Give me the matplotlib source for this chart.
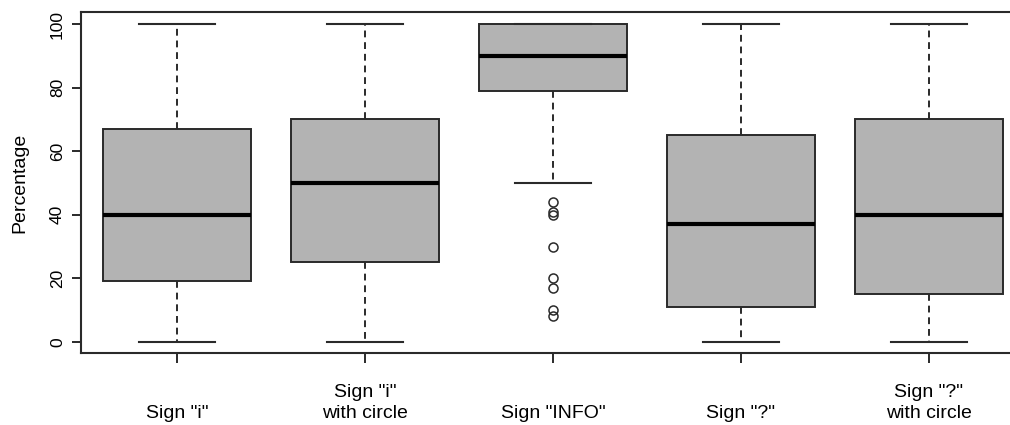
import numpy as np
import matplotlib.pyplot as plt

plt.rcParams['font.family'] = ['Liberation Sans', 'DejaVu Sans']

labels = ['Sign "i"', 'Sign "i"\nwith circle', 'Sign "INFO"', 'Sign "?"', 'Sign "?"\nwith circle']
whislo = [0, 0, 50, 0, 0]
q1 = [19, 25, 79, 11, 15]
med = [40, 50, 90, 37, 40]
q3 = [67, 70, 100, 65, 70]
whishi = [100, 100, 100, 100, 100]
fliers = [[], [], [44, 41, 40, 30, 20, 17, 10, 8], [], []]

stats = []
for i in range(len(labels)):
    stats.append(dict(label='', whislo=whislo[i], q1=q1[i], med=med[i],
                      q3=q3[i], whishi=whishi[i], fliers=fliers[i]))

fig = plt.figure(figsize=(10.1, 4.25), dpi=100)
# right edge of the frame runs past the picture
ax = fig.add_axes([0.0802, 0.1694, 0.94, 0.8024])

pos = np.arange(1, 6)
ax.bxp(stats, positions=pos, widths=0.79, patch_artist=True,
       boxprops=dict(facecolor='#b3b3b3', edgecolor='#2a2a2a', linewidth=1.4),
       medianprops=dict(color='black', linewidth=3),
       whiskerprops=dict(color='#2a2a2a', linestyle=(0, (3.5, 2.5)), linewidth=1.4),
       capprops=dict(color='#2a2a2a', linewidth=1.5),
       capwidths=0.405,
       flierprops=dict(marker='o', markerfacecolor='none', markeredgecolor='#2a2a2a',
                       markersize=6.5, markeredgewidth=1.1))

ax.set_xlim(0.49, 0.49 + 0.94 * 1010 / 188)
ax.set_ylim(-3.5, 103.8)
ax.set_yticks([0, 20, 40, 60, 80, 100])
ax.set_yticklabels(['0', '20', '40', '60', '80', '100'], rotation=90, va='center',
                   fontsize=12.5)
ax.tick_params(axis='y', length=6.5, width=1.4, pad=5, colors='#2a2a2a', labelcolor='black')
ax.set_xticks(pos)
ax.set_xticklabels([])
ax.tick_params(axis='x', length=7.2, width=1.4, colors='#2a2a2a')

# x labels: last line sits on a common baseline
for x, lab in zip(pos, labels):
    ax.annotate(lab, xy=(x, 0), xycoords=('data', 'axes fraction'),
                xytext=(0, -65), textcoords='offset pixels',
                ha='center', va='baseline', fontsize=14, linespacing=1.3)

for s in ax.spines.values():
    s.set_linewidth(1.5)
    s.set_color('#2a2a2a')
ax.spines['right'].set_visible(False)
ax.set_ylabel('Percentage', fontsize=14)
ax.yaxis.label.set_va('center')
ax.yaxis.set_label_coords(-61 / 949, 0.5)

fig.savefig('out.png', dpi=100)
